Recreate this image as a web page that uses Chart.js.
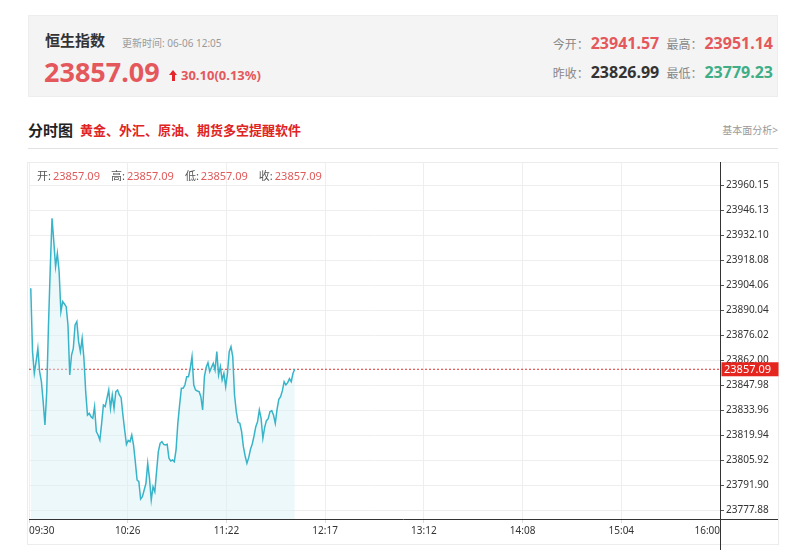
<!DOCTYPE html>
<html>
<head>
<meta charset="utf-8">
<script src="https://cdn.jsdelivr.net/npm/chart.js@4.4.1/dist/chart.umd.min.js"></script>
<style>
  body { margin: 0; width: 800px; height: 560px; background: #fff; position: relative; overflow: hidden;
         font-family: "Noto Sans", "Noto Sans CJK SC", sans-serif; }
  .abs { position: absolute; white-space: nowrap; }
  .head { left: 28px; top: 15px; width: 748px; height: 80px; background: #f4f4f4; border: 1px solid #ededed; }
  .red { color: #e4585c; }
  .green { color: #3fae86; }
  .lbl { font-size: 12px; color: #888; margin-left: 3px; margin-right: 2px; font-family: "Noto Sans CJK SC"; }
  .num { font-size: 16px; font-weight: bold; }
  .box { left: 27px; top: 162px; width: 750px; height: 381px; border: 1px solid #ececec; }
  #wrap { position: absolute; left: 0; top: 150px; width: 800px; height: 400px; }
  .info { left: 37px; top: 169px; font-size: 11px; line-height: 14px; color: #555; z-index: 2; }
  .info span { color: #e05a5a; margin-left: 2px; margin-right: 11px; }
  .arrow { display: inline-block; position: relative; width: 9px; height: 11px; margin-right: 3px; vertical-align: -1px; }
  .arrow::before { content: ""; position: absolute; left: 0; top: 0; border-left: 4.5px solid transparent;
                   border-right: 4.5px solid transparent; border-bottom: 5px solid #e4262a; }
  .arrow::after { content: ""; position: absolute; left: 3px; top: 5px; width: 3px; height: 6px; background: #e4262a; }
</style>
</head>
<body>
<div class="abs head"></div>
<div class="abs" style="left:45px;top:30px;font-size:15px;line-height:20px;font-weight:bold;color:#333;font-family:'Noto Sans CJK SC'">恒生指数</div>
<div class="abs" style="left:122px;top:36px;font-size:10px;line-height:14px;color:#9a9a9a">更新时间: 06-06 12:05</div>
<div class="abs red" style="left:44px;top:56px;font-size:27px;line-height:32px;font-weight:bold">23857.09</div>
<div class="abs red" style="left:169px;top:67px;font-size:13px;line-height:16px;font-weight:bold"><i class="arrow"></i>30.10(0.13%)</div>

<div class="abs" style="right:27px;top:33px;line-height:20px">
  <span class="lbl">今开：</span><span class="num red">23941.57</span>
  <span class="lbl">最高：</span><span class="num red">23951.14</span>
</div>
<div class="abs" style="right:27px;top:62px;line-height:20px">
  <span class="lbl">昨收：</span><span class="num" style="color:#333">23826.99</span>
  <span class="lbl">最低：</span><span class="num green">23779.23</span>
</div>

<div class="abs" style="left:28px;top:120px;font-size:15px;line-height:20px;font-weight:bold;color:#222;font-family:'Noto Sans CJK SC'">分时图</div>
<div class="abs" style="left:80px;top:121px;font-size:13px;line-height:18px;font-weight:bold;color:#e02424;font-family:'Noto Sans CJK SC'">黄金、外汇、原油、期货多空提醒软件</div>
<div class="abs" style="right:22px;top:123px;font-size:10px;line-height:14px;color:#999">基本面分析&gt;</div>
<div class="abs" style="left:28px;top:148px;width:750px;height:1px;background:#e2e2e2"></div>

<div class="abs box"></div>
<div id="wrap"><canvas id="chart"></canvas></div>
<div class="abs info">开:<span>23857.09</span>高:<span>23857.09</span>低:<span>23857.09</span>收:<span>23857.09</span></div>

<script>
// 分时数据：09:31 - 12:00，每分钟一个价格
const prices = [
  23902.48, 23866.96, 23854.81, 23861.35, 23868.83, 23855.74, 23850.14, 23838.92, 23825.84, 23844.53,
  23881.92, 23913.69, 23941.73, 23928.65, 23914.63, 23922.11, 23911.82, 23889.39, 23895.00, 23893.69,
  23892.20, 23881.92, 23853.88, 23865.09, 23868.83, 23881.92, 23883.78, 23872.57, 23866.96, 23874.44,
  23863.22, 23844.53, 23831.44, 23832.38, 23830.51, 23829.57, 23836.12, 23822.10, 23820.23, 23817.42,
  23826.77, 23837.05, 23836.12, 23840.79, 23845.46, 23835.18, 23842.66, 23835.18, 23844.53, 23845.46,
  23842.66, 23841.16, 23831.44, 23823.03, 23814.99, 23817.24, 23816.49, 23820.23, 23814.62, 23805.27,
  23794.99, 23794.06, 23784.34, 23785.65, 23789.38, 23793.12, 23804.34, 23795.93, 23783.78, 23791.25,
  23788.45, 23799.67, 23810.88, 23815.56, 23816.49, 23814.99, 23814.62, 23815.00, 23807.15, 23805.66,
  23806.22, 23805.28, 23811.83, 23826.78, 23837.06, 23846.41, 23846.41, 23848.28, 23852.95, 23852.95,
  23857.62, 23864.17, 23848.28, 23845.47, 23844.91, 23844.54, 23841.73, 23834.26, 23852.95, 23858.18,
  23860.80, 23855.75, 23858.18, 23860.43, 23856.69, 23866.97, 23853.88, 23858.56, 23851.08, 23854.82,
  23847.34, 23854.82, 23866.97, 23869.77, 23864.17, 23842.67, 23833.32, 23827.34, 23826.78, 23822.11,
  23813.69, 23808.46, 23804.35, 23807.53, 23812.20, 23815.19, 23819.68, 23824.91, 23827.71, 23834.26,
  23829.58, 23818.37, 23824.54, 23828.28, 23829.40, 23833.32, 23833.88, 23831.45, 23826.78, 23834.63,
  23840.24, 23841.73, 23845.10, 23850.15, 23848.28, 23849.59, 23851.83, 23850.15, 23854.82, 23857.09
];

// 坐标轴刻度
const timeLabels = ["09:30", "10:26", "11:22", "12:17", "13:12", "14:08", "15:04", "16:00"];
const priceTicks = [23777.88, 23791.90, 23805.92, 23819.94, 23833.96, 23847.98, 23862.00,
                    23876.02, 23890.04, 23904.06, 23918.08, 23932.10, 23946.13, 23960.15];
const totalMinutes = 390;
const lastPrice = 23857.09;

// 最新价标签 + 坐标轴线
const overlay = {
  id: "overlay",
  afterDraw(chart) {
    const { ctx, chartArea: a, scales: { y } } = chart;
    ctx.save();
    ctx.strokeStyle = "#333";
    ctx.lineWidth = 1;
    ctx.beginPath();
    const ax = Math.round(a.right) + 0.5;
    const bx = Math.round(a.bottom) + 0.5;
    ctx.moveTo(ax, a.top);
    ctx.lineTo(ax, a.bottom + 31);
    ctx.moveTo(a.left, bx);
    ctx.lineTo(a.right + 58, bx);
    ctx.stroke();

    const py = y.getPixelForValue(lastPrice);
    ctx.fillStyle = "#e4261f";
    ctx.fillRect(a.right + 1.5, py - 7, 57, 14);
    ctx.fillStyle = "#fff";
    ctx.font = "11px 'Noto Sans'";
    ctx.textBaseline = "middle";
    ctx.fillText(lastPrice.toFixed(2), a.right + 4, py + 0.5);
    ctx.restore();
  }
};

new Chart(document.getElementById("chart"), {
  type: "line",
  data: {
    datasets: [
      {
        data: prices.map((p, i) => ({ x: i + 1, y: p })),
        borderColor: "#38b4c9",
        borderWidth: 1.5,
        backgroundColor: "rgba(214,239,247,0.45)",
        fill: "start",
        pointRadius: 0,
        tension: 0
      },
      {
        data: [{ x: 0, y: lastPrice }, { x: totalMinutes, y: lastPrice }],
        borderColor: "#e03232",
        borderWidth: 1,
        borderDash: [2, 2],
        pointRadius: 0,
        fill: false
      }
    ]
  },
  plugins: [overlay],
  options: {
    responsive: true,
    maintainAspectRatio: false,
    animation: false,
    layout: { padding: { left: 29, top: 12, right: 22, bottom: 5 } },
    plugins: { legend: { display: false }, tooltip: { enabled: false } },
    scales: {
      x: {
        type: "linear",
        min: 0,
        max: totalMinutes,
        afterBuildTicks: (s) => { s.ticks = timeLabels.map((_, i) => ({ value: i * totalMinutes / 7 })); },
        afterFit: (s) => { s.height = 26; s.paddingLeft = 0; s.paddingRight = 0; },
        ticks: {
          autoSkip: false,
          maxRotation: 0,
          align: "inner",
          padding: 2,
          color: "#333",
          font: { size: 10, family: "Noto Sans" },
          callback: (v, i) => timeLabels[i]
        },
        grid: { color: "#eeeeee", tickColor: "#dddddd", tickLength: 4 },
        border: { display: false }
      },
      y: {
        position: "right",
        min: 23773.12,
        max: 23973.33,
        afterBuildTicks: (s) => { s.ticks = priceTicks.map(v => ({ value: v })); },
        afterFit: (s) => { s.width = 58; s.paddingTop = 0; s.paddingBottom = 0; },
        ticks: {
          autoSkip: false,
          padding: 2,
          color: "#333",
          font: { size: 10, family: "Noto Sans" },
          callback: (v) => Number(v).toFixed(2)
        },
        grid: { color: "#eeeeee", tickColor: "#555", tickLength: 4 },
        border: { display: false }
      }
    }
  }
});
</script>
</body>
</html>
